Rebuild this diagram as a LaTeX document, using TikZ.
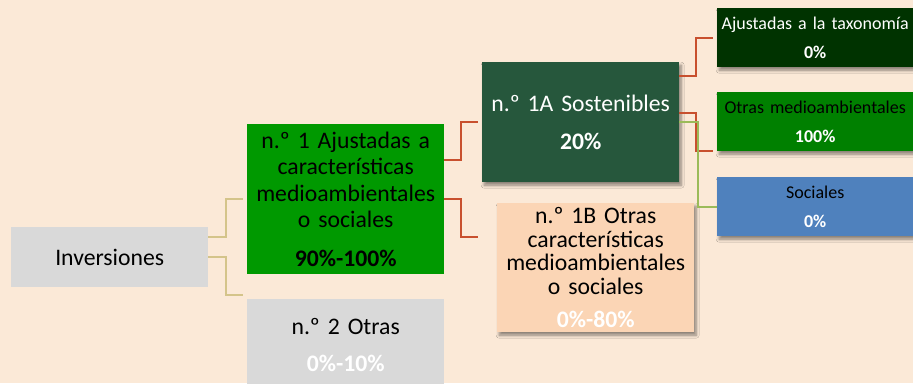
\documentclass[tikz,border=0pt]{standalone}
\usepackage{fontspec}
\setmainfont{Carlito}
\usetikzlibrary{shadows.blur}
\definecolor{bgc}{HTML}{FBE9D7}
\definecolor{grayc}{HTML}{D9D9D9}
\definecolor{greenA}{HTML}{009900}
\definecolor{darkA}{HTML}{26573C}
\definecolor{peachB}{HTML}{FBD5B5}
\definecolor{taxc}{HTML}{003300}
\definecolor{medc}{HTML}{008000}
\definecolor{socc}{HTML}{4F81BD}
\definecolor{tanl}{HTML}{D4C48A}
\definecolor{redl}{HTML}{C8502E}
\definecolor{grnl}{HTML}{9BBB59}
\tikzset{
  box/.style={anchor=north west, inner sep=0pt, align=center, text width=197pt, minimum width=197pt},
  bigtxt/.style={font=\fontsize{23.7}{27}\selectfont},
  smalltxt/.style={font=\fontsize{18}{20}\selectfont},
  shad/.style={blur shadow={shadow xshift=2pt, shadow yshift=-3pt, shadow blur steps=6, shadow blur radius=3pt, shadow opacity=45}},
  conn/.style={line width=2.1pt},
}
\begin{document}
\begin{tikzpicture}[x=1pt,y=1pt]
\fill[bgc] (0,0) rectangle (913,-383);
\useasboundingbox (0,0) rectangle (913,-383);

\node[box, fill=grayc, minimum height=60pt, bigtxt] (inv) at (11,-227) {Inversiones};

\node[box, fill=greenA, minimum height=150pt, font=\fontsize{23.7}{26.5}\selectfont] (n1) at (247,-124)
  {n.º 1 Ajustadas a\\características\\medioambientales\\o sociales\\[12pt]\textbf{90\%-100\%}};

\node[box, fill=grayc, minimum height=91pt, bigtxt] (n2) at (247,-299)
  {n.º 2 Otras\\[10pt]\textcolor{white}{\textbf{0\%-10\%}}};

\node[box, fill=darkA, minimum height=120pt, bigtxt, text=white, shad] (n1a) at (482,-62)
  {n.º 1A Sostenibles\\[11pt]\textbf{20\%}};

\node[box, fill=peachB, minimum height=129pt, font=\fontsize{23.7}{23.5}\selectfont, shad] (n1b) at (497,-203)
  {n.º 1B Otras\\características\\medioambientales\\o sociales\\[10pt]\textcolor{white}{\textbf{0\%-80\%}}};

\node[box, text width=196pt, minimum width=196pt, fill=taxc, minimum height=59pt, smalltxt, text=white, shad] (tax) at (717,-8)
  {Ajustadas a la taxonomía\\[9pt]\textbf{0\%}};

\node[box, text width=196pt, minimum width=196pt, fill=medc, minimum height=59pt, smalltxt, shad] (med) at (717,-92)
  {Otras medioambientales\\[9pt]\textcolor{white}{\textbf{100\%}}};

\node[box, text width=196pt, minimum width=196pt, fill=socc, minimum height=59pt, smalltxt, shad] (soc) at (717,-177)
  {Sociales\\[9pt]\textcolor{white}{\textbf{0\%}}};

% connectors
\draw[conn, tanl] ([yshift=20pt]inv.east) -- ++(18,0) |- ([xshift=-4pt]n1.west);
\draw[conn, tanl] (inv.east) -- ++(18,0) |- ([xshift=-4pt,yshift=4pt]n2.north west);

\draw[conn, redl] ([yshift=39pt]n1.east) -- ++(17,0) |- ([xshift=-4pt]n1a.west);
\draw[conn, redl] (n1.east) -- ++(17,0) |- ([xshift=-19pt,yshift=30.5pt]n1b.west);

\draw[conn, redl] ([yshift=46pt]n1a.east) -- ++(17,0) |- ([xshift=-4pt]tax.west);
\draw[conn, redl] ([yshift=9pt]n1a.east) -- ++(17,0) |- ([xshift=-4pt]med.south west);
\draw[conn, grnl] (n1a.east) -- ++(19,0) |- (soc.west);
\end{tikzpicture}
\end{document}
